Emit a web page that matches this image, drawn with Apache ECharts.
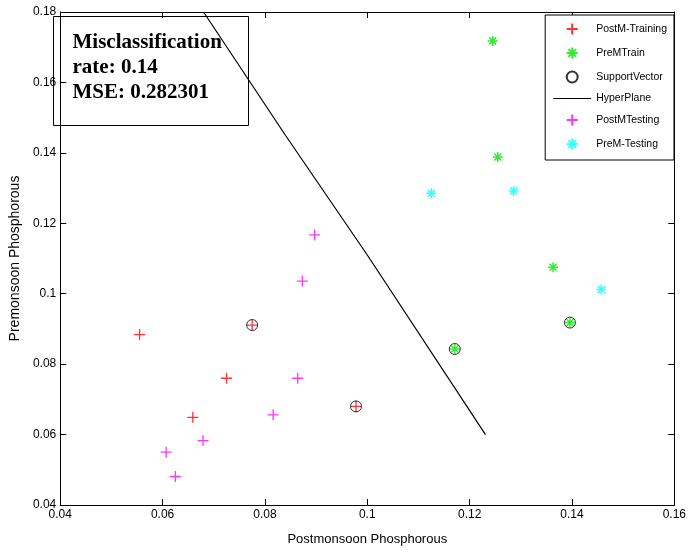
<!DOCTYPE html>
<html>
<head>
<meta charset="utf-8">
<script src="https://cdn.jsdelivr.net/npm/echarts@6/dist/echarts.min.js"></script>
<style>
  html, body { margin: 0; padding: 0; background: #fff; }
  #chart { width: 689px; height: 553px; }
</style>
</head>
<body>
<div id="chart"></div>
<script>
// values: [postmonsoon, premonsoon]
var postMTraining = [[0.0555, 0.0884], [0.0775, 0.0911], [0.0725, 0.0760], [0.0659, 0.0649], [0.0978, 0.0680]]
var preMTrain = [[0.1245, 0.1718], [0.1255, 0.1388], [0.1363, 0.1075], [0.1396, 0.0918], [0.1171, 0.0843]]
var supportVector = [[0.0775, 0.0911], [0.0978, 0.0680], [0.1171, 0.0843], [0.1396, 0.0918]]
var hyperPlane = [[0.0680, 0.1800], [0.0840, 0.1450], [0.1000, 0.1110], [0.1231, 0.0600]]
var postMTesting = [[0.0607, 0.0550], [0.0625, 0.0481], [0.0679, 0.0583], [0.0816, 0.0656], [0.0864, 0.0760], [0.0873, 0.1036], [0.0897, 0.1167]]
var preMTesting = [[0.1125, 0.1285], [0.1286, 0.1292], [0.1457, 0.1012]]
var infoLines = ['Misclassification', 'rate: 0.14', 'MSE: 0.282301']

var plusPath = 'path://M5,0V10M0,5H10'
var starPath = 'path://M5,0V10M0,5H10M1.5,1.5L8.5,8.5M8.5,1.5L1.5,8.5'
var linePath = 'path://M0,0H38V1H0Z'
var font = "'Liberation Sans Narrow', 'Liberation Sans', Arial, sans-serif"

function markSeries(name, data, symbol, color, size, bw) {
    return {
        name: name, type: 'scatter', data: data,
        symbol: symbol, symbolSize: size, symbolKeepAspect: true,
        itemStyle: { color: 'none', borderColor: color, borderWidth: bw },
        emphasis: { disabled: true }, z: 3
    }
}

var draw = echarts.init(document.getElementById('chart'))
draw.setOption({
    animation: false,
    grid: { left: 55, right: 13, top: 12, bottom: 48 },
    legend: {
        orient: 'vertical', right: 15, top: 15,
        padding: [6, 7, 8, 8], itemGap: 8, itemWidth: 38, itemHeight: 11,
        backgroundColor: '#fff', borderColor: '#000', borderWidth: 1, borderRadius: 0,
        textStyle: { fontFamily: font, fontSize: 10.5, color: '#000' },
        data: ['PostM-Training', 'PreMTrain', 'SupportVector', { name: 'HyperPlane', icon: linePath }, 'PostMTesting', 'PreM-Testing']
    },
    xAxis: [{
        type: 'value', min: 0.04, max: 0.16, interval: 0.02,
        name: 'Postmonsoon Phosphorous', nameLocation: 'middle', nameGap: 28,
        nameTextStyle: { fontFamily: font, fontSize: 13, color: '#000' },
        axisLine: { lineStyle: { color: '#000' } },
        axisTick: { inside: true, length: 6, lineStyle: { color: '#000' } },
        axisLabel: { fontFamily: font, fontSize: 12, color: '#000', margin: 4 },
        splitLine: { show: false }
    }, {
        type: 'value', position: 'top', min: 0.04, max: 0.16, interval: 0.02,
        axisLine: { lineStyle: { color: '#000' } },
        axisTick: { inside: true, length: 6, lineStyle: { color: '#000' } },
        axisLabel: { show: false }, splitLine: { show: false }
    }],
    yAxis: [{
        type: 'value', min: 0.04, max: 0.18, interval: 0.02,
        name: 'Premonsoon Phosphorous', nameLocation: 'middle', nameGap: 21,
        nameTextStyle: { fontFamily: font, fontSize: 14, color: '#000' },
        axisLine: { lineStyle: { color: '#000' } },
        axisTick: { inside: true, length: 6, lineStyle: { color: '#000' } },
        axisLabel: { fontFamily: font, fontSize: 12, color: '#000', margin: 4 },
        splitLine: { show: false }
    }, {
        type: 'value', position: 'right', min: 0.04, max: 0.18, interval: 0.02,
        axisLine: { show: true, lineStyle: { color: '#000' } },
        axisTick: { show: true, inside: true, length: 6, lineStyle: { color: '#000' } },
        axisLabel: { show: false }, splitLine: { show: false }
    }],
    series: [
        markSeries('PostM-Training', postMTraining, plusPath, '#ff0000', 11, 1.3),
        markSeries('PreMTrain', preMTrain, starPath, '#00e600', 10, 1.5),
        markSeries('SupportVector', supportVector, 'circle', '#000', 11, 1),
        {
            name: 'HyperPlane', type: 'line', data: hyperPlane, symbol: 'none', symbolKeepAspect: true,
            lineStyle: { color: '#000', width: 1.2 }, itemStyle: { color: '#000' }, z: 2
        },
        markSeries('PostMTesting', postMTesting, plusPath, '#ff00ff', 11, 1.3),
        markSeries('PreM-Testing', preMTesting, starPath, '#00ffff', 10, 1.5)
    ],
    graphic: [{
        type: 'group', left: 53, top: 16, z: 10,
        children: [{
            type: 'rect', shape: { x: 0, y: 0, width: 195, height: 109 },
            style: { fill: '#fff', stroke: '#000', lineWidth: 1 }
        }, {
            type: 'text', left: 19, top: 14,
            style: {
                text: infoLines.join('\n'), lineHeight: 25,
                font: "bold 21px 'Liberation Serif', 'Times New Roman', serif", fill: '#000'
            }
        }]
    }]
})
</script>
</body>
</html>
